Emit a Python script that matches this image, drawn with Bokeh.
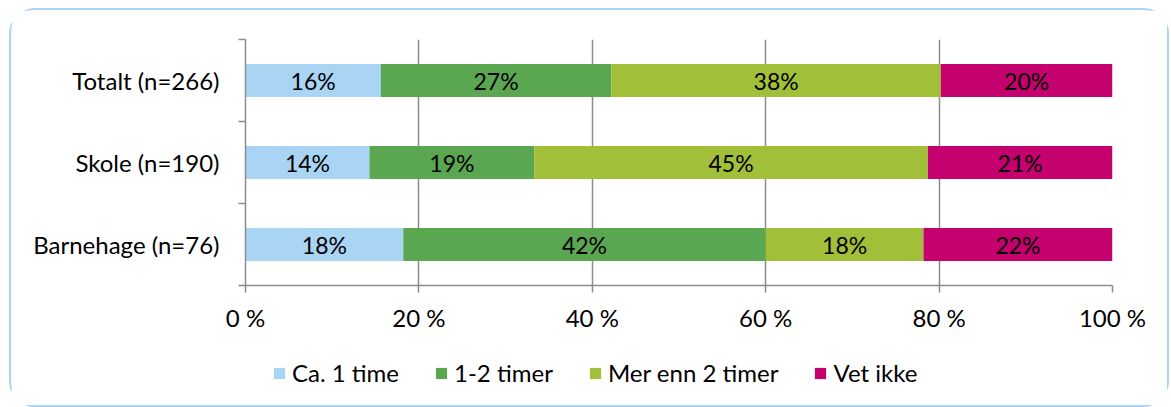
from bokeh.plotting import figure
from bokeh.models import (ColumnDataSource, FixedTicker, Legend, LegendItem,
                          Range1d)
from bokeh.layouts import column
from bokeh.core.properties import value
from bokeh.embed import file_html
from bokeh.resources import INLINE

categories = ["Totalt (n=266)", "Skole (n=190)", "Barnehage (n=76)"]
series_names = ["Ca. 1 time", "1-2 timer", "Mer enn 2 timer", "Vet ikke"]
ca_1_time = [15.6, 14.3, 18.2]
timer_1_2 = [26.6, 19.0, 41.8]
mer_enn_2 = [38.0, 45.4, 18.2]
vet_ikke = [19.8, 21.3, 21.8]
x_ticks = [0, 20, 40, 60, 80, 100]
x_tick_labels = ["0 %", "20 %", "40 %", "60 %", "80 %", "100 %"]

colors = ["#a9d4f4", "#5ba650", "#a2bf39", "#c5006f"]
FONT = "Lato"
GRAY = "#8c8c8c"

n = len(categories)
ypos = [n - i - 0.5 for i in range(n)]
series = [ca_1_time, timer_1_2, mer_enn_2, vet_ikke]
keys = ["s0", "s1", "s2", "s3"]
data = {"y": ypos}
for k, s in zip(keys, series):
    data[k] = s
source = ColumnDataSource(data)

W = 1156
H1 = 330
H2 = 65

p = figure(width=W, height=H1, x_range=Range1d(0, 100), y_range=Range1d(0, n),
           output_backend="svg", toolbar_location=None,
           min_border_left=234, min_border_right=55, min_border_top=29,
           min_border_bottom=55)
p.outline_line_color = None

renderers = p.hbar_stack(keys, y="y", height=0.4, color=colors, source=source,
                         line_color=None)

# segment labels
lab_x, lab_y, lab_t = [], [], []
for j in range(n):
    acc = 0.0
    for s in series:
        v = s[j]
        lab_x.append(acc + v / 2)
        lab_y.append(ypos[j])
        lab_t.append(f"{int(v + 0.5)}%")
        acc += v
lsrc = ColumnDataSource(dict(x=lab_x, y=lab_y, t=lab_t))
p.text(x="x", y="y", text="t", source=lsrc, text_align="center",
       text_baseline="middle", text_font=value(FONT), text_font_size="23px",
       text_color="black")

# x axis
xa = p.xaxis[0]
xa.ticker = FixedTicker(ticks=x_ticks, minor_ticks=[])
xa.major_label_overrides = {t: l for t, l in zip(x_ticks, x_tick_labels)}
xa.axis_line_color = GRAY
xa.axis_line_width = 1.5
xa.major_tick_line_color = GRAY
xa.major_tick_line_width = 1.5
xa.major_tick_in = 0
xa.major_tick_out = 7
xa.major_label_standoff = 10
xa.major_label_text_font = FONT
xa.major_label_text_font_size = "24px"
xa.major_label_text_color = "black"

# y axis
ya = p.yaxis[0]
ya.ticker = FixedTicker(ticks=ypos, minor_ticks=[float(i) for i in range(n + 1)])
ya.major_label_overrides = {y: c for y, c in zip(ypos, categories)}
ya.axis_line_color = GRAY
ya.axis_line_width = 1.5
ya.major_tick_line_color = None
ya.major_tick_in = 0
ya.major_tick_out = 0
ya.minor_tick_line_color = GRAY
ya.minor_tick_line_width = 1.5
ya.minor_tick_in = 0
ya.minor_tick_out = 7
ya.major_label_standoff = 19
ya.major_label_text_font = FONT
ya.major_label_text_font_size = "24px"
ya.major_label_text_color = "black"

p.ygrid.grid_line_color = None
p.xgrid.grid_line_color = GRAY
p.xgrid.grid_line_width = 1.5

# legend figure (its frame is aligned with the chart's frame by the column)
p2 = figure(width=W, height=H2, x_range=Range1d(0, 1), y_range=Range1d(0, 1),
            output_backend="svg", toolbar_location=None,
            x_axis_location=None, y_axis_location=None, min_border=0)
p2.outline_line_color = None
p2.grid.grid_line_color = None
leg_src = ColumnDataSource(dict(y=[-5.0], l=[-5.0], r=[-4.0]))
leg_renderers = [p2.hbar(y="y", left="l", right="r", height=0.1, color=c,
                         line_color=None, source=leg_src) for c in colors]
legend = Legend(items=[LegendItem(label=nm, renderers=[r])
                       for nm, r in zip(series_names, leg_renderers)],
                orientation="horizontal", location=(27, 18),
                border_line_color=None, background_fill_alpha=0,
                glyph_width=14, glyph_height=14, label_standoff=6, spacing=35,
                padding=0, margin=0, label_text_font=FONT,
                label_text_font_size="24px", label_text_color="black",
                label_height=24)
p2.add_layout(legend, "center")

layout = column(p, p2, spacing=0)
layout.styles = {"border": "2px solid #abd3f3", "border-radius": "26px",
                 "margin-left": "9px", "margin-top": "8px"}

open("out.html", "w").write(file_html(layout, INLINE))
